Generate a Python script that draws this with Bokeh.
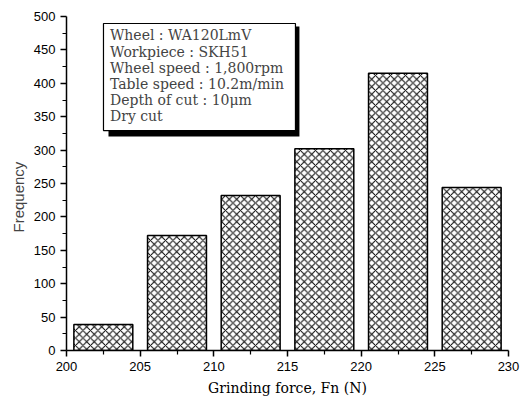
from bokeh.plotting import figure
from bokeh.models import (Label, BoxAnnotation, FixedTicker, Range1d, Title)
from bokeh.embed import file_html
from bokeh.resources import INLINE

# Histogram of normal grinding force
bin_left = [200, 205, 210, 215, 220, 225]
bin_right = [205, 210, 215, 220, 225, 230]
frequency = [39, 172, 232, 302, 415, 244]

x_ticks = [200, 205, 210, 215, 220, 225, 230]
y_ticks = [0, 50, 100, 150, 200, 250, 300, 350, 400, 450, 500]

conditions = [
    "Wheel : WA120LmV",
    "Workpiece : SKH51",
    "Wheel speed : 1,800rpm",
    "Table speed : 10.2m/min",
    "Depth of cut : 10\u03bcm",
    "Dry cut",
]

p = figure(width=529, height=399, output_backend="svg", toolbar_location=None,
           x_range=Range1d(200, 230), y_range=Range1d(0, 500),
           min_border_left=66, min_border_right=21,
           min_border_top=16, min_border_bottom=49)
p.outline_line_color = None
p.xgrid.visible = False
p.ygrid.visible = False
p.background_fill_color = "white"

centers = [(a + b) / 2 for a, b in zip(bin_left, bin_right)]
p.vbar(x=centers, top=frequency, bottom=0, width=4,
       fill_color="white", line_color="black", line_width=1.5,
       hatch_pattern="diagonal_cross", hatch_color="black",
       hatch_scale=7.5, hatch_weight=1)

for ax, ticks in ((p.xaxis, x_ticks), (p.yaxis, y_ticks)):
    ax.ticker = FixedTicker(ticks=ticks,
                            minor_ticks=[t + (ticks[1] - ticks[0]) / 2 for t in ticks[:-1]])
    ax.axis_line_width = 1.5
    ax.axis_line_color = "black"
    ax.major_tick_line_width = 1.5
    ax.minor_tick_line_width = 1.2
    ax.major_tick_out = 6
    ax.major_tick_in = 0
    ax.minor_tick_out = 4
    ax.minor_tick_in = 0
    ax.major_label_text_font = "Liberation Sans"
    ax.major_label_text_font_size = "13px"
    ax.major_label_text_color = "black"
    ax.major_label_standoff = 5

# Axis titles
p.xaxis.axis_label = "Grinding force, Fn (N)"
p.xaxis.axis_label_text_font = "DejaVu Serif"
p.xaxis.axis_label_text_font_size = "14px"
p.xaxis.axis_label_text_font_style = "normal"
p.xaxis.axis_label_text_color = "black"
p.xaxis.axis_label_standoff = 6

p.add_layout(Title(text="Frequency", align="left", offset=118,
                   text_font="Liberation Sans", text_font_size="15px",
                   text_font_style="normal", standoff=8), "left")

# Condition box with drop shadow
p.add_layout(BoxAnnotation(left=202.85, right=215.81, top=485, bottom=320.4,
                           fill_color="black", fill_alpha=1, line_color=None))
p.add_layout(BoxAnnotation(left=202.51, right=215.54, top=489.5, bottom=329.3,
                           fill_color="white", fill_alpha=1,
                           line_color="black", line_width=1.2, line_alpha=1))
for i, line in enumerate(conditions):
    p.add_layout(Label(x=202.95, y=471.6 - i * 24.25, text=line,
                       text_font="DejaVu Serif", text_font_size="14px",
                       text_align="left", text_baseline="middle"))

open("out.html", "w").write(file_html(p, INLINE))
